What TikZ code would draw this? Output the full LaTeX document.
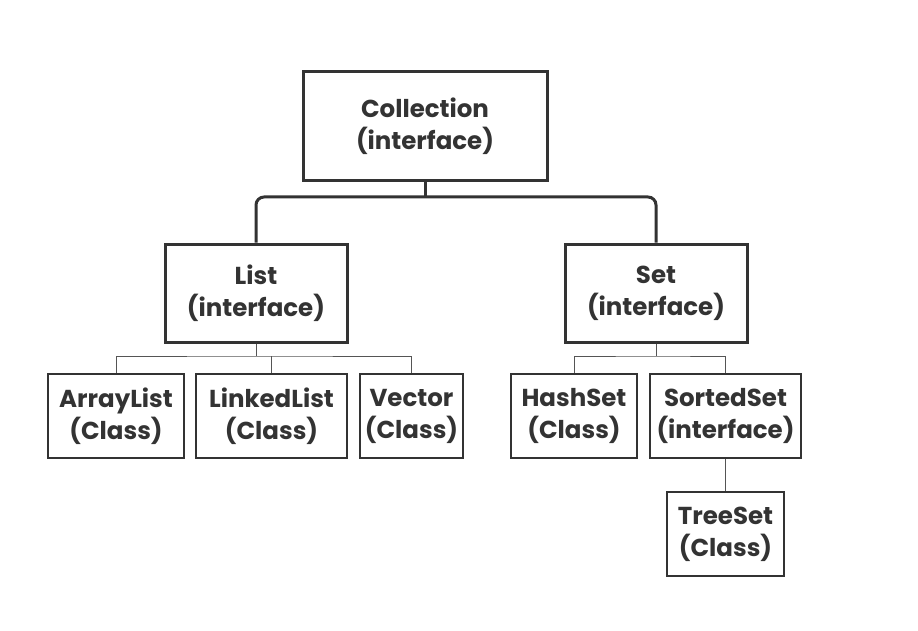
\documentclass[tikz,border=0pt]{standalone}
\usepackage{fontspec}
\setmainfont{Poppins}
\definecolor{ink}{HTML}{333333}
\definecolor{thin}{HTML}{555555}
\begin{document}
\begin{tikzpicture}[x=1pt,y=-1pt,
  txt/.style={font=\bfseries\fontsize{24.5}{32}\selectfont,text=ink,align=center,inner sep=0pt},
  bigbox/.style={txt,draw=ink,line width=3pt},
  smallbox/.style={txt,draw=ink,line width=2pt},
  thickline/.style={draw=ink,line width=3pt,rounded corners=8pt},
  thinline/.style={draw=thin,line width=1pt}]
\useasboundingbox (0,0) rectangle (918,631);
\node[bigbox,minimum width=244pt,minimum height=109pt] (coll) at (425,126.5) {Collection\\(interface)};
\node[bigbox,minimum width=182pt,minimum height=98pt] (list) at (256,293) {List\\(interface)};
\node[bigbox,minimum width=182pt,minimum height=98pt] (set) at (656,293) {Set\\(interface)};
\node[smallbox,minimum width=136pt,minimum height=84pt] (al) at (116,416) {ArrayList\\(Class)};
\node[smallbox,minimum width=151pt,minimum height=84pt] (ll) at (271.5,416) {LinkedList\\(Class)};
\node[smallbox,minimum width=103pt,minimum height=84pt] (vec) at (411.5,416) {Vector\\(Class)};
\node[smallbox,minimum width=126pt,minimum height=84pt] (hs) at (574,416) {HashSet\\(Class)};
\node[smallbox,minimum width=151pt,minimum height=84pt] (ss) at (725.5,416) {SortedSet\\(interface)};
\node[smallbox,minimum width=117pt,minimum height=84pt] (ts) at (725.5,534) {TreeSet\\(Class)};
\coordinate (j) at (425,197);
\draw[thickline] (coll.south) -- (j);
\draw[thickline] (list.north) |- (j) -| (set.north);
\coordinate (lj) at (256,356);
\coordinate (sj) at (656,356);
\draw[thinline] (list.south) -- (lj);
\draw[thinline] (al.north) |- (lj) -| (vec.north);
\draw[thinline] (ll.north) -- (ll.north |- lj);
\draw[thinline] (set.south) -- (sj);
\draw[thinline] (hs.north) |- (sj) -| (ss.north);
\draw[thinline] (ss.south) -- (ts.north);
\end{tikzpicture}
\end{document}
